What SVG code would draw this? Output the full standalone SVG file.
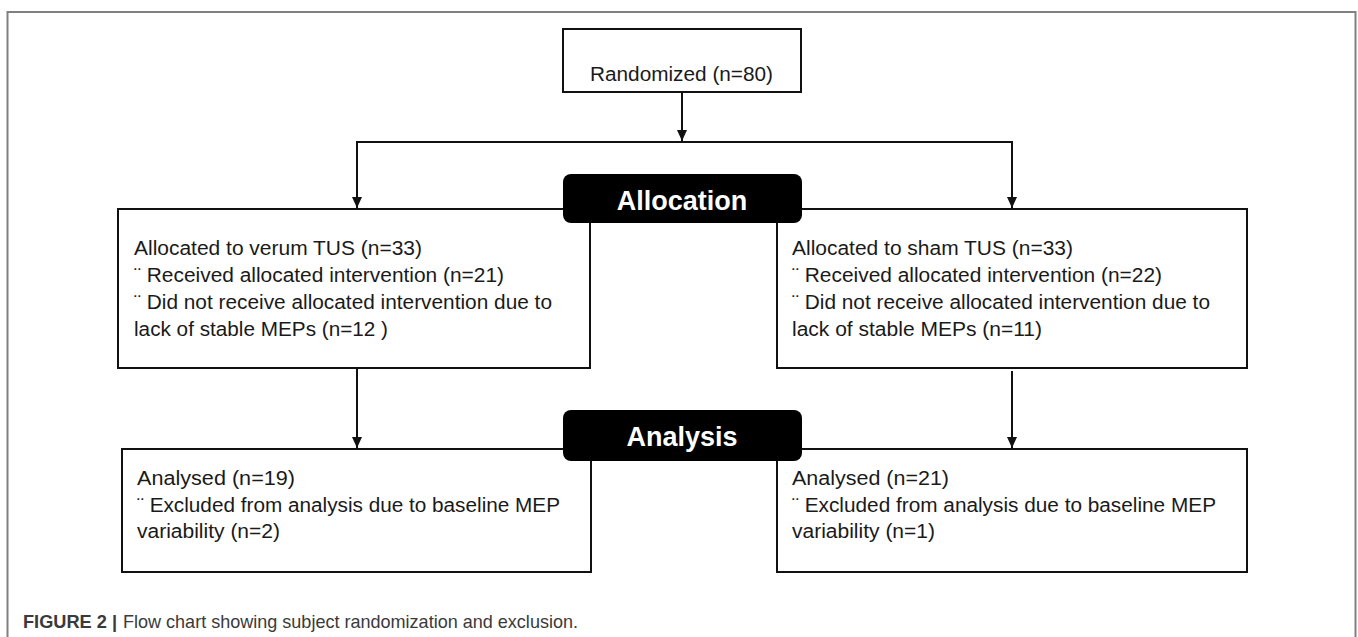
<svg xmlns="http://www.w3.org/2000/svg" width="1358" height="637" viewBox="0 0 1358 637">
  <style>
    .box { fill: #ffffff; stroke: #111111; stroke-width: 2; }
    .hdr { fill: #000000; }
    .hdrt { font-family: "Liberation Sans", Arial, sans-serif; font-weight: bold; font-size: 27px; fill: #ffffff; text-anchor: middle; }
    .t { font-family: "Liberation Sans", Arial, sans-serif; font-size: 19.5px; fill: #1a1a1a; }
    .conn { stroke: #111111; stroke-width: 2; fill: none; }
    .cap { font-family: "Liberation Sans", Arial, sans-serif; font-size: 19px; fill: #3a3a3a; }
  </style>
  <defs>
    <marker id="arr" markerUnits="userSpaceOnUse" viewBox="0 0 11 10" markerWidth="11" markerHeight="10" refX="11" refY="5" orient="auto">
      <path d="M0,0 L11,5 L0,10 z" fill="#111111"/>
    </marker>
  </defs>
  <rect x="0" y="0" width="1358" height="637" fill="#ffffff"/>
  <rect x="7.5" y="12" width="1348" height="640" fill="none" stroke="#808080" stroke-width="2"/>

  <g id="connectors">
    <line class="conn" x1="682" y1="92" x2="682" y2="141" marker-end="url(#arr)"/>
    <polyline class="conn" points="357,208 357,142 1012,142 1012,208"/>
    <line class="conn" x1="357" y1="150" x2="357" y2="208" marker-end="url(#arr)"/>
    <line class="conn" x1="1012" y1="150" x2="1012" y2="208" marker-end="url(#arr)"/>
    <line class="conn" x1="357" y1="369" x2="357" y2="448" marker-end="url(#arr)"/>
    <line class="conn" x1="1012" y1="371" x2="1012" y2="448" marker-end="url(#arr)"/>
  </g>

  <g id="randomized">
    <rect class="box" x="563" y="29" width="238" height="63"/>
    <text class="t" x="590" y="81" font-size="20" textLength="183" lengthAdjust="spacingAndGlyphs">Randomized (n=80)</text>
  </g>

  <g id="alloc-verum">
    <rect class="box" x="118" y="209" width="472" height="159"/>
    <text class="t" x="134" y="255" textLength="288" lengthAdjust="spacingAndGlyphs">Allocated to verum TUS  (n=33)</text>
    <text class="t" x="134" y="282" textLength="370" lengthAdjust="spacingAndGlyphs">¨ Received allocated intervention (n=21)</text>
    <text class="t" x="134" y="309" textLength="418" lengthAdjust="spacingAndGlyphs">¨ Did not receive allocated intervention due to</text>
    <text class="t" x="134" y="336" textLength="254" lengthAdjust="spacingAndGlyphs">lack of stable MEPs (n=12 )</text>
  </g>

  <g id="alloc-sham">
    <rect class="box" x="777" y="209" width="470" height="159"/>
    <text class="t" x="792" y="255" textLength="281" lengthAdjust="spacingAndGlyphs">Allocated to sham TUS  (n=33)</text>
    <text class="t" x="792" y="282" textLength="370" lengthAdjust="spacingAndGlyphs">¨ Received allocated intervention (n=22)</text>
    <text class="t" x="792" y="309" textLength="418" lengthAdjust="spacingAndGlyphs">¨ Did not receive allocated intervention due to</text>
    <text class="t" x="792" y="336" textLength="250" lengthAdjust="spacingAndGlyphs">lack of stable MEPs (n=11)</text>
  </g>

  <g id="allocation-label">
    <rect class="hdr" x="563" y="174" width="239" height="49" rx="8" ry="8"/>
    <text class="hdrt" x="682" y="210">Allocation</text>
  </g>

  <g id="analysed-verum">
    <rect class="box" x="122" y="449" width="469" height="123"/>
    <text class="t" x="137" y="485" textLength="158" lengthAdjust="spacingAndGlyphs">Analysed  (n=19)</text>
    <text class="t" x="137" y="512" textLength="423" lengthAdjust="spacingAndGlyphs">¨ Excluded from analysis due to baseline MEP</text>
    <text class="t" x="137" y="538" textLength="143" lengthAdjust="spacingAndGlyphs">variability (n=2)</text>
  </g>

  <g id="analysed-sham">
    <rect class="box" x="777" y="449" width="470" height="123"/>
    <text class="t" x="792" y="485" textLength="157" lengthAdjust="spacingAndGlyphs">Analysed  (n=21)</text>
    <text class="t" x="792" y="512" textLength="424" lengthAdjust="spacingAndGlyphs">¨ Excluded from analysis due to baseline MEP</text>
    <text class="t" x="792" y="538" textLength="143" lengthAdjust="spacingAndGlyphs">variability (n=1)</text>
  </g>

  <g id="analysis-label">
    <rect class="hdr" x="563" y="410" width="239" height="51" rx="8" ry="8"/>
    <text class="hdrt" x="682" y="446">Analysis</text>
  </g>

  <g id="caption">
    <text class="cap" x="23" y="628" font-weight="bold" fill="#2a2a2a" textLength="94" lengthAdjust="spacingAndGlyphs">FIGURE 2 |</text>
    <text class="cap" x="123" y="628" textLength="455" lengthAdjust="spacingAndGlyphs">Flow chart showing subject randomization and exclusion.</text>
  </g>
</svg>
